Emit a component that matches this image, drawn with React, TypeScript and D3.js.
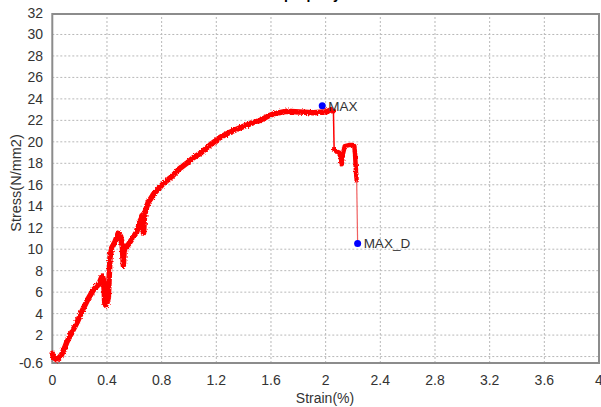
import React from "react";
import * as d3 from "d3";

const W = 601;
const H = 407;

// Stress-strain curve (strain %, stress N/mm2)
const curveA: [number, number][] = [
  [0, 0.3], [0.01, -0.1], [0.032, -0.3], [0.05, -0.1], [0.069, 0.2], [0.09, 0.8],
  [0.105, 1.3], [0.14, 2.2], [0.178, 3.1], [0.22, 4.3], [0.263, 5.4], [0.3, 6.2],
  [0.33, 6.6], [0.349, 7.0], [0.365, 7.5], [0.372, 7.3], [0.378, 6.5], [0.384, 5.0],
  [0.39, 4.8], [0.4, 5.0], [0.41, 5.5], [0.415, 7.0], [0.422, 9.2], [0.434, 10.1],
  [0.459, 10.7], [0.483, 11.5], [0.5, 11.2], [0.512, 10.3], [0.52, 8.5], [0.525, 9.8],
  [0.532, 10.1], [0.56, 10.5], [0.581, 10.9], [0.617, 11.6], [0.645, 12.6], [0.655, 13.1],
  [0.662, 12.5], [0.668, 11.5], [0.673, 12.8], [0.68, 13.5], [0.702, 14.4], [0.72, 14.7],
  [0.739, 15.1], [0.775, 15.6], [0.812, 16.1], [0.85, 16.5], [0.885, 16.9], [0.93, 17.5],
  [0.983, 18.0], [1.03, 18.5], [1.08, 18.9], [1.154, 19.7], [1.227, 20.4], [1.3, 20.9],
  [1.373, 21.3], [1.45, 21.7], [1.52, 22.0], [1.58, 22.4], [1.617, 22.6], [1.715, 22.85],
  [1.81, 22.78], [1.91, 22.7], [2.007, 22.8], [2.04, 23.0], [2.055, 22.9],
];
const dropA: [number, number][] = [[2.057, 22.9], [2.062, 19.3]];
const curveB: [number, number][] = [
  [2.062, 19.3], [2.08, 19.1], [2.1, 19.0], [2.11, 18.6], [2.117, 17.9], [2.125, 18.8],
  [2.14, 19.6], [2.17, 19.7], [2.2, 19.7], [2.21, 19.6], [2.215, 18.9], [2.222, 17.2],
  [2.227, 16.4],
];
const dropB: [number, number][] = [[2.227, 16.4], [2.234, 10.53]];

const markers = [
  { name: "MAX", x: 1.975, y: 23.37 },
  { name: "MAX_D", x: 2.234, y: 10.53 },
];

const xTicks = [0, 0.4, 0.8, 1.2, 1.6, 2, 2.4, 2.8, 3.2, 3.6, 4];
const xGrid = [0.4, 0.8, 1.2, 1.6, 2, 2.4, 2.8, 3.2, 3.6];
const yTicks = [-0.6, 2, 4, 6, 8, 10, 12, 14, 16, 18, 20, 22, 24, 26, 28, 30, 32];
const yGrid = [0, 2, 4, 6, 8, 10, 12, 14, 16, 18, 20, 22, 24, 26, 28, 30];

const titleText = "property";
const xTitle = "Strain(%)";
const yTitle = "Stress(N/mm2)";

export default function App() {
  const left = 52.3, right = 599, top = 13, bottom = 363;
  const x = d3.scaleLinear().domain([0, 4]).range([left, right]);
  const y = d3.scaleLinear().domain([-0.6, 32]).range([bottom, top]);
  const line = d3.line<[number, number]>().x((d) => x(d[0])).y((d) => y(d[1]));
  const font = "'Liberation Sans', Arial, sans-serif";

  return (
    <svg width={W} height={H} style={{ position: "absolute", left: 0, top: 0, background: "#fff" }}>
      <defs>
        <filter id="fuzz" filterUnits="userSpaceOnUse" x={0} y={0} width={W} height={H}>
          <feTurbulence type="fractalNoise" baseFrequency="0.7" numOctaves={1} seed={3} result="noise" />
          <feDisplacementMap in="SourceGraphic" in2="noise" scale={3.5} xChannelSelector="R" yChannelSelector="G" />
        </filter>
      </defs>
      <text x={284} y={-1} fontFamily={font} fontWeight="bold" fontSize={14} fill="#000">{titleText}</text>
      {yGrid.map((v) => (
        <line key={"yg" + v} x1={left} x2={right} y1={y(v)} y2={y(v)} stroke="#b8b8b8" strokeWidth={1} strokeDasharray="2,2" />
      ))}
      {xGrid.map((v) => (
        <line key={"xg" + v} x1={x(v)} x2={x(v)} y1={top} y2={bottom} stroke="#b8b8b8" strokeWidth={1} strokeDasharray="2,2" />
      ))}
      <rect x={left} y={top + 1} width={right - left} height={bottom - top - 1} fill="none" stroke="#8c8c8c" strokeWidth={2} />
      {yTicks.map((v) => (
        <text key={"yt" + v} x={43} y={y(v)} dy="0.35em" textAnchor="end" fontFamily={font} fontSize={14} fill="#333">{String(v)}</text>
      ))}
      {xTicks.map((v) => (
        <text key={"xt" + v} x={x(v)} y={385} textAnchor="middle" fontFamily={font} fontSize={14} fill="#333">{String(v)}</text>
      ))}
      <text x={325} y={403} textAnchor="middle" fontFamily={font} fontSize={14} fill="#333">{xTitle}</text>
      <text transform={`translate(21,183) rotate(-90)`} textAnchor="middle" fontFamily={font} fontSize={14.5} fill="#333">{yTitle}</text>

      <g filter="url(#fuzz)">
        <path d={line(curveA) || ""} fill="none" stroke="#ff0000" strokeWidth={5.5} strokeLinejoin="round" strokeLinecap="round" />
        <path d={line(curveB) || ""} fill="none" stroke="#ff0000" strokeWidth={4.5} strokeLinejoin="round" strokeLinecap="round" />
      </g>
      <path d={line(dropA) || ""} fill="none" stroke="#ff0000" strokeWidth={1.5} />
      <path d={line(dropB) || ""} fill="none" stroke="#f06060" strokeWidth={1.2} />

      {markers.map((m) => (
        <g key={m.name}>
          <circle cx={x(m.x)} cy={y(m.y)} r={3.5} fill="#0000ff" />
          <text x={x(m.x) + 6} y={y(m.y)} dy="0.36em" fontFamily={font} fontSize={13.5} fill="#333">{m.name}</text>
        </g>
      ))}
    </svg>
  );
}
